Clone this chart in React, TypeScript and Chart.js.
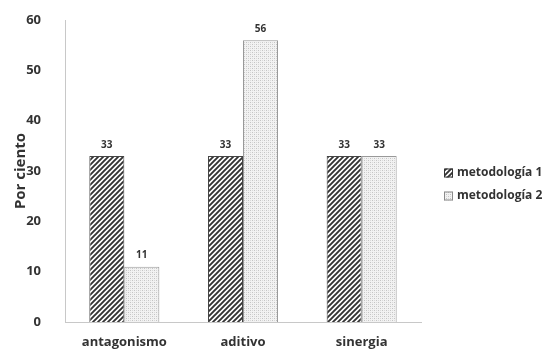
import React, { useEffect, useRef } from "react";
import { Chart, registerables } from "chart.js";

Chart.register(...registerables);

const categories = ["antagonismo", "aditivo", "sinergia"];
const metodologia1 = [33, 33, 33];
const metodologia2 = [11, 56, 33];
const seriesNames = ["metodología 1", "metodología 2"];
const yTicks = [0, 10, 20, 30, 40, 50, 60];

const FONT = "'Open Sans', Lato, sans-serif";
const TEXT = "#333333";

function stripePattern(): CanvasPattern | string {
  const c = document.createElement("canvas");
  c.width = 5;
  c.height = 5;
  const ctx = c.getContext("2d");
  if (!ctx) return "#333";
  ctx.fillStyle = "#ffffff";
  ctx.fillRect(0, 0, 5, 5);
  ctx.strokeStyle = "#333333";
  ctx.lineWidth = 1.9;
  ctx.beginPath();
  for (let k = -1; k <= 1; k++) {
    ctx.moveTo(k * 5 - 1, 6);
    ctx.lineTo(k * 5 + 6, -1);
  }
  ctx.stroke();
  return ctx.createPattern(c, "repeat") || "#333";
}

function dotPattern(): CanvasPattern | string {
  const c = document.createElement("canvas");
  c.width = 4;
  c.height = 4;
  const ctx = c.getContext("2d");
  if (!ctx) return "#ddd";
  ctx.fillStyle = "#f2f2f2";
  ctx.fillRect(0, 0, 4, 4);
  ctx.fillStyle = "#c4c4c4";
  ctx.fillRect(0, 0, 1, 1);
  ctx.fillRect(2, 2, 1, 1);
  ctx.fillStyle = "#dadada";
  ctx.fillRect(2, 0, 1, 1);
  ctx.fillRect(0, 2, 1, 1);
  return ctx.createPattern(c, "repeat") || "#ddd";
}

export default function App() {
  const ref = useRef<HTMLCanvasElement | null>(null);

  useEffect(() => {
    const canvas = ref.current;
    if (!canvas) return;
    const fills = [stripePattern(), dotPattern()];

    // value labels above each bar
    const valueLabels = {
      id: "valueLabels",
      afterDatasetsDraw(chart: any) {
        const ctx = chart.ctx;
        ctx.save();
        ctx.font = `bold 10px ${FONT}`;
        ctx.fillStyle = TEXT;
        ctx.textAlign = "center";
        ctx.textBaseline = "bottom";
        chart.data.datasets.forEach((ds: any, i: number) => {
          const meta = chart.getDatasetMeta(i);
          meta.data.forEach((bar: any, j: number) => {
            ctx.fillText(String(ds.data[j]), bar.x, bar.y - 6);
          });
        });
        ctx.restore();
      },
    };

    // legend drawn at the right of the plot
    const sideLegend = {
      id: "sideLegend",
      afterDraw(chart: any) {
        const ctx = chart.ctx;
        ctx.save();
        ctx.font = `bold 12px ${FONT}`;
        ctx.textBaseline = "middle";
        ctx.textAlign = "left";
        seriesNames.forEach((name, i) => {
          const x = 444;
          const y = 173 + i * 23;
          ctx.fillStyle = fills[i];
          ctx.fillRect(x, y - 4.5, 9, 9);
          ctx.strokeStyle = i === 0 ? "#333333" : "#8a8a8a";
          ctx.lineWidth = 1;
          ctx.strokeRect(x + 0.5, y - 4, 8, 8);
          ctx.fillStyle = TEXT;
          ctx.fillText(name, x + 13, y);
        });
        ctx.restore();
      },
    };

    const chart = new Chart(canvas, {
      type: "bar",
      data: {
        labels: categories,
        datasets: [
          {
            label: seriesNames[0],
            data: metodologia1,
            backgroundColor: fills[0] as any,
            borderColor: "#444444",
            borderWidth: 1,
            categoryPercentage: 0.59,
            barPercentage: 1.0,
          },
          {
            label: seriesNames[1],
            data: metodologia2,
            backgroundColor: fills[1] as any,
            borderColor: "#999999",
            borderWidth: 1,
            categoryPercentage: 0.59,
            barPercentage: 1.0,
          },
        ],
      },
      options: {
        animation: false,
        responsive: false,
        maintainAspectRatio: false,
        layout: { padding: { top: 20, right: 131, bottom: 5, left: 12 } },
        plugins: {
          legend: { display: false },
          tooltip: { enabled: false },
        },
        scales: {
          x: {
            grid: { display: false },
            border: { display: true, color: "#c8c8c8", width: 1 },
            ticks: {
              color: TEXT,
              font: { family: FONT, size: 13, weight: "bold" },
              padding: 4,
            },
            afterFit(scale: any) {
              scale.height = 27;
              scale.paddingLeft = 0;
              scale.paddingRight = 0;
            },
          },
          y: {
            min: 0,
            max: 60,
            afterBuildTicks(scale: any) {
              scale.ticks = yTicks.map((v) => ({ value: v }));
            },
            grid: { display: false },
            border: { display: true, color: "#c8c8c8", width: 1 },
            ticks: {
              color: TEXT,
              font: { family: FONT, size: 13, weight: "bold" },
              padding: 16,
            },
            title: {
              display: true,
              text: "Por ciento",
              color: TEXT,
              font: { family: FONT, size: 15, weight: "bold" },
              padding: { top: 0, bottom: 4 },
            },
            afterFit(scale: any) {
              scale.width = 53;
              scale.paddingTop = 0;
              scale.paddingBottom = 0;
            },
          },
        },
      },
      plugins: [valueLabels, sideLegend],
    });

    return () => chart.destroy();
  }, []);

  return (
    <div style={{ position: "fixed", left: 0, top: 0, width: 552, height: 354, background: "#fff" }}>
      <canvas ref={ref} width={552} height={354} style={{ width: 552, height: 354 }} />
    </div>
  );
}
